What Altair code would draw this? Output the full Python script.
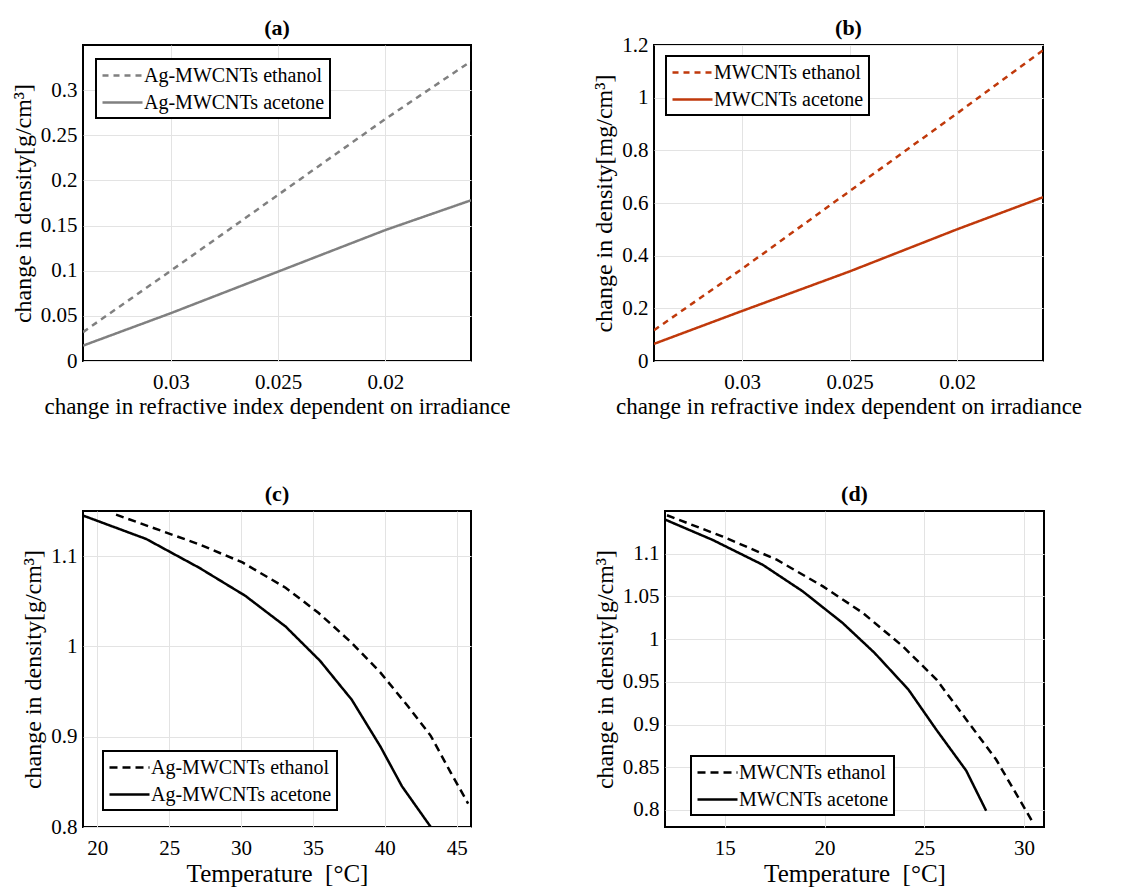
import altair as alt
import pandas as pd

# ---------------- data ----------------
# (a) Ag-MWCNTs, density vs change in refractive index
ab_x = [0.0341, 0.030, 0.025, 0.020, 0.016]
a_eth = [0.032, 0.100, 0.184, 0.268, 0.332]
a_ace = [0.017, 0.053, 0.099, 0.145, 0.178]
# (b) MWCNTs
b_eth = [0.117, 0.350, 0.645, 0.940, 1.180]
b_ace = [0.065, 0.190, 0.340, 0.500, 0.622]
# (c) Ag-MWCNTs vs temperature
c_eth_T = [21.3, 27.1, 30.1, 33.1, 35.4, 37.7, 39.7, 41.6, 43.2, 44.6, 45.8]
c_eth = [1.146, 1.113, 1.093, 1.065, 1.037, 1.004, 0.971, 0.934, 0.901, 0.860, 0.826]
c_ace_T = [19.0, 23.4, 27.1, 30.3, 33.1, 35.5, 37.7, 39.7, 41.2, 43.2]
c_ace = [1.145, 1.119, 1.087, 1.056, 1.022, 0.984, 0.941, 0.889, 0.845, 0.800]
# (d) MWCNTs vs temperature
d_eth_T = [12.1, 14.9, 17.6, 19.9, 21.9, 23.9, 25.6, 27.1, 28.6, 30.4]
d_eth = [1.145, 1.120, 1.093, 1.062, 1.031, 0.992, 0.953, 0.906, 0.859, 0.787]
d_ace_T = [12.0, 14.4, 16.9, 18.9, 20.9, 22.5, 24.2, 25.6, 27.1, 28.1]
d_ace = [1.140, 1.116, 1.087, 1.056, 1.019, 0.984, 0.941, 0.894, 0.846, 0.799]

panel_titles = ["(a)", "(b)", "(c)", "(d)"]

FONT = "Liberation Serif"
H = 316


def frame(xs_e, ys_e, xs_a, ys_a, name_e, name_a):
    rows = [{"x": x, "y": y, "s": name_e, "o": i} for i, (x, y) in enumerate(zip(xs_e, ys_e))]
    rows += [{"x": x, "y": y, "s": name_a, "o": i} for i, (x, y) in enumerate(zip(xs_a, ys_a))]
    return pd.DataFrame(rows)


def panel(df, names, color, dash, title, xdom, xvals, xfmt, xtitle, xtsize, reverse,
          ydom, yvals, yfmt, ytitle, lx, ly, W, top_row):
    lines = alt.Chart(df).mark_line(clip=True, strokeWidth=2.5, color=color).encode(
        x=alt.X("x:Q", scale=alt.Scale(domain=xdom, reverse=reverse, nice=False, zero=False),
                axis=alt.Axis(values=xvals, format=xfmt, title=xtitle, titleFontSize=xtsize)),
        y=alt.Y("y:Q", scale=alt.Scale(domain=ydom, nice=False, zero=False),
                axis=alt.Axis(values=yvals, format=yfmt, title=ytitle)),
        strokeDash=alt.StrokeDash("s:N", scale=alt.Scale(domain=names, range=[dash, [1, 0]]),
                                  legend=alt.Legend(orient="none", legendX=lx, legendY=ly,
                                                    title=None, symbolType="M-2,0L2,0",
                                                    symbolStrokeColor=color,
                                                    symbolFillColor="transparent",
                                                    symbolStrokeWidth=2.5, symbolSize=400,
                                                    symbolOffset=10,
                                                    fillColor="white", strokeColor="black",
                                                    padding=5, labelFont=FONT, labelFontSize=20,
                                                    labelColor="black", labelOffset=10,
                                                    labelLimit=400, rowPadding=5)),
        order="o:Q",
    )
    ttl = alt.Chart(pd.DataFrame({"t": [title]})).mark_text(
        font=FONT, fontSize=22, fontWeight="bold", color="black",
        align="center", baseline="middle", clip=False
    ).encode(text="t:N", x=alt.value(W / 2), y=alt.value(-17))
    # invisible layout anchor (fixes the panel's outer extent for concat alignment)
    y0, y1 = (0, H + 80) if top_row else (-45, H)
    anchor = alt.Chart(pd.DataFrame({"d": [0]})).mark_rule(
        color="white", opacity=0, clip=False
    ).encode(x=alt.value(-72), y=alt.value(y0), y2=alt.value(y1))
    return alt.layer(lines, ttl, anchor).properties(width=W, height=H)


na = ["Ag-MWCNTs ethanol", "Ag-MWCNTs acetone"]
nb = ["MWCNTs ethanol", "MWCNTs acetone"]
xt1 = "change in refractive index dependent on irradiance"
xt2 = "Temperature\u00a0\u00a0[\u00b0C]"

pa = panel(frame(ab_x, a_eth, ab_x, a_ace, *na), na, "#808080", [6, 5], panel_titles[0],
           [0.016, 0.0341], [0.03, 0.025, 0.02], ".3~f", xt1, 23, True,
           [0, 0.35], [0, 0.05, 0.1, 0.15, 0.2, 0.25, 0.3], ".2~f",
           "change in density[g/cm³]", 13, 14, 388, True)
pb = panel(frame(ab_x, b_eth, ab_x, b_ace, *nb), nb, "#c0390b", [6, 5], panel_titles[1],
           [0.016, 0.0341], [0.03, 0.025, 0.02], ".3~f", xt1, 23, True,
           [0, 1.2], [0, 0.2, 0.4, 0.6, 0.8, 1.0, 1.2], ".1~f",
           "change in density[mg/cm³]", 12, 11, 389, True)
pc = panel(frame(c_eth_T, c_eth, c_ace_T, c_ace, *na), na, "black", [8, 5], panel_titles[2],
           [19, 46], [20, 25, 30, 35, 40, 45], "d", xt2, 25, False,
           [0.8, 1.15], [0.8, 0.9, 1.0, 1.1], ".1~f",
           "change in density[g/cm³]", 20, 240, 388, False)
pd_ = panel(frame(d_eth_T, d_eth, d_ace_T, d_ace, *nb), nb, "black", [8, 5], panel_titles[3],
            [12, 31], [15, 20, 25, 30], "d", xt2, 25, False,
            [0.78, 1.15], [0.8, 0.85, 0.9, 0.95, 1.0, 1.05, 1.1], ".2~f",
            "change in density[g/cm³]", 26, 245, 379, False)

top = alt.hconcat(pa, pb, spacing=183, bounds="flush").resolve_scale(
    x="independent", y="independent", strokeDash="independent"
).resolve_legend(strokeDash="independent")
bottom = alt.hconcat(pc, pd_, spacing=194, bounds="flush").resolve_scale(
    x="independent", y="independent", strokeDash="independent"
).resolve_legend(strokeDash="independent")

chart = alt.vconcat(top, bottom, spacing=23).resolve_scale(
    x="independent", y="independent", strokeDash="independent"
).resolve_legend(strokeDash="independent").properties(
    padding={"left": 2, "top": 8, "right": 0, "bottom": 0}, background="white"
).configure_view(stroke="black", strokeWidth=2).configure_axis(
    domain=False, ticks=False, grid=True, gridColor="#e3e3e3", gridWidth=1,
    labelFont=FONT, labelFontSize=21, labelColor="black", labelPadding=6,
    titleFont=FONT, titleFontSize=22, titleFontWeight="normal", titleColor="black",
    titlePadding=6,
).configure_axisX(labelPadding=10, titlePadding=3).configure_axisY(titleFontSize=24,
                                                                    titlePadding=5
).configure_legend(strokeWidth=2)

chart.save("out.html", embed_options={"renderer": "svg", "actions": False})
